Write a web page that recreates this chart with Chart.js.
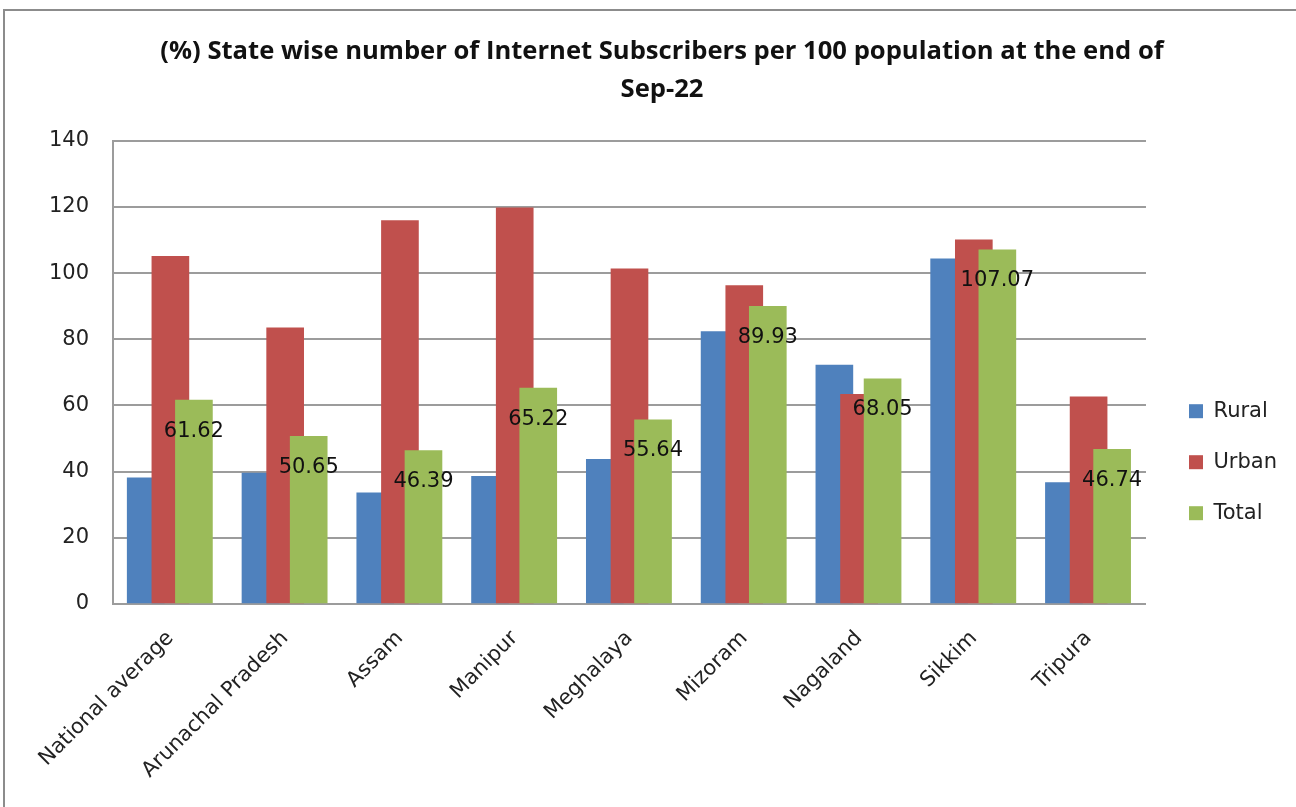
<!DOCTYPE html>
<html>
<head>
<meta charset="utf-8">
<script src="https://cdn.jsdelivr.net/npm/chart.js@4.4.1/dist/chart.umd.min.js"></script>
<style>
    html, body { margin: 0; padding: 0; background: #fff; overflow: hidden; }
    #frame { position: absolute; left: 3px; top: 9px; width: 1400px; height: 900px; border: 2px solid #8c8c8c; }
    #wrap { position: absolute; left: 0; top: 0; width: 1296px; height: 807px; }
</style>
</head>
<body>
<div id="frame"></div>
<div id="wrap"><canvas id="chart"></canvas></div>
<script>
// values
const states = ['National average', 'Arunachal Pradesh', 'Assam', 'Manipur', 'Meghalaya', 'Mizoram', 'Nagaland', 'Sikkim', 'Tripura'];
const rural = [38.1, 39.6, 33.6, 38.6, 43.7, 82.3, 72.2, 104.3, 36.7];
const urban = [105.1, 83.5, 115.9, 119.7, 101.3, 96.2, 63.4, 110.1, 62.6];
const total = [61.62, 50.65, 46.39, 65.22, 55.64, 89.93, 68.05, 107.07, 46.74];
const yTicks = [0, 20, 40, 60, 80, 100, 120, 140];

const titleLines = ['(%) State wise number of Internet Subscribers per 100 population at the end of', 'Sep-22'];

const labelFont = { family: '"DejaVu Sans", sans-serif', size: 21 };
const gridColor = '#9c9c9c';

// excel style overlapping bars: shift each series inside its category
const toPoints = (values, shift) => values.map((v, i) => ({ x: i + shift, y: v }));

// value labels on the Total bars
const totalLabels = {
    id: 'totalLabels',
    afterDatasetsDraw(chart) {
        const meta = chart.getDatasetMeta(2);
        const ctx = chart.ctx;
        ctx.save();
        ctx.font = '21px "DejaVu Sans", sans-serif';
        ctx.fillStyle = '#111';
        ctx.textAlign = 'center';
        ctx.textBaseline = 'middle';
        meta.data.forEach((bar, i) => ctx.fillText(total[i].toFixed(2), bar.x, bar.y + 31));
        ctx.restore();
    }
};

new Chart(document.getElementById('chart'), {
    type: 'bar',
    data: {
        datasets: [
            { label: 'Rural', data: toPoints(rural, -0.215), backgroundColor: '#4F81BD', order: 3 },
            { label: 'Urban', data: toPoints(urban, 0), backgroundColor: '#C0504D', order: 2 },
            { label: 'Total', data: toPoints(total, 0.205), backgroundColor: '#9BBB59', order: 1 }
        ]
    },
    options: {
        responsive: true,
        maintainAspectRatio: false,
        animation: false,
        layout: { padding: { left: 37, right: 9, top: 0, bottom: 0 } },
        datasets: { bar: { grouped: false, barThickness: 37, borderWidth: 0 } },
        plugins: {
            tooltip: { enabled: false },
            title: {
                display: true,
                text: titleLines,
                color: '#111',
                font: { family: '"Open Sans", sans-serif', size: 25.6, weight: 'bold', lineHeight: 1.48 },
                padding: { top: 33, bottom: 32 }
            },
            legend: {
                position: 'right',
                title: { display: true, text: '', font: { size: 12 }, padding: { top: 0, bottom: 103 } },
                labels: {
                    boxWidth: 14,
                    boxHeight: 14,
                    padding: 30,
                    color: '#222',
                    font: labelFont,
                    sort: (a, b) => a.datasetIndex - b.datasetIndex
                }
            }
        },
        scales: {
            y: {
                min: 0,
                max: 140,
                afterBuildTicks: (s) => { s.ticks = yTicks.map(v => ({ value: v })); },
                afterFit: (s) => { s.width = 76; },
                grid: { color: gridColor, lineWidth: 2, drawTicks: false },
                border: { color: gridColor, width: 2 },
                ticks: { color: '#222', font: labelFont, padding: 24 }
            },
            yR: {
                position: 'right',
                afterFit: (s) => { s.width = 13; },
                grid: { display: false },
                border: { display: false },
                ticks: { display: false }
            },
            x: {
                type: 'linear',
                min: -0.5,
                max: 8.5,
                offset: false,
                // one tick per state, at the category centre
                afterBuildTicks: (s) => { s.ticks = states.map((_, i) => ({ value: i })); },
                afterFit: (s) => { s.height = 203; },
                grid: { display: false, drawTicks: false },
                border: { color: gridColor, width: 2 },
                ticks: {
                    autoSkip: false,
                    minRotation: 45,
                    maxRotation: 45,
                    padding: 22,
                    color: '#222',
                    font: labelFont,
                    callback: (v) => states[v] || ''
                }
            }
        }
    },
    plugins: [totalLabels]
});
</script>
</body>
</html>
